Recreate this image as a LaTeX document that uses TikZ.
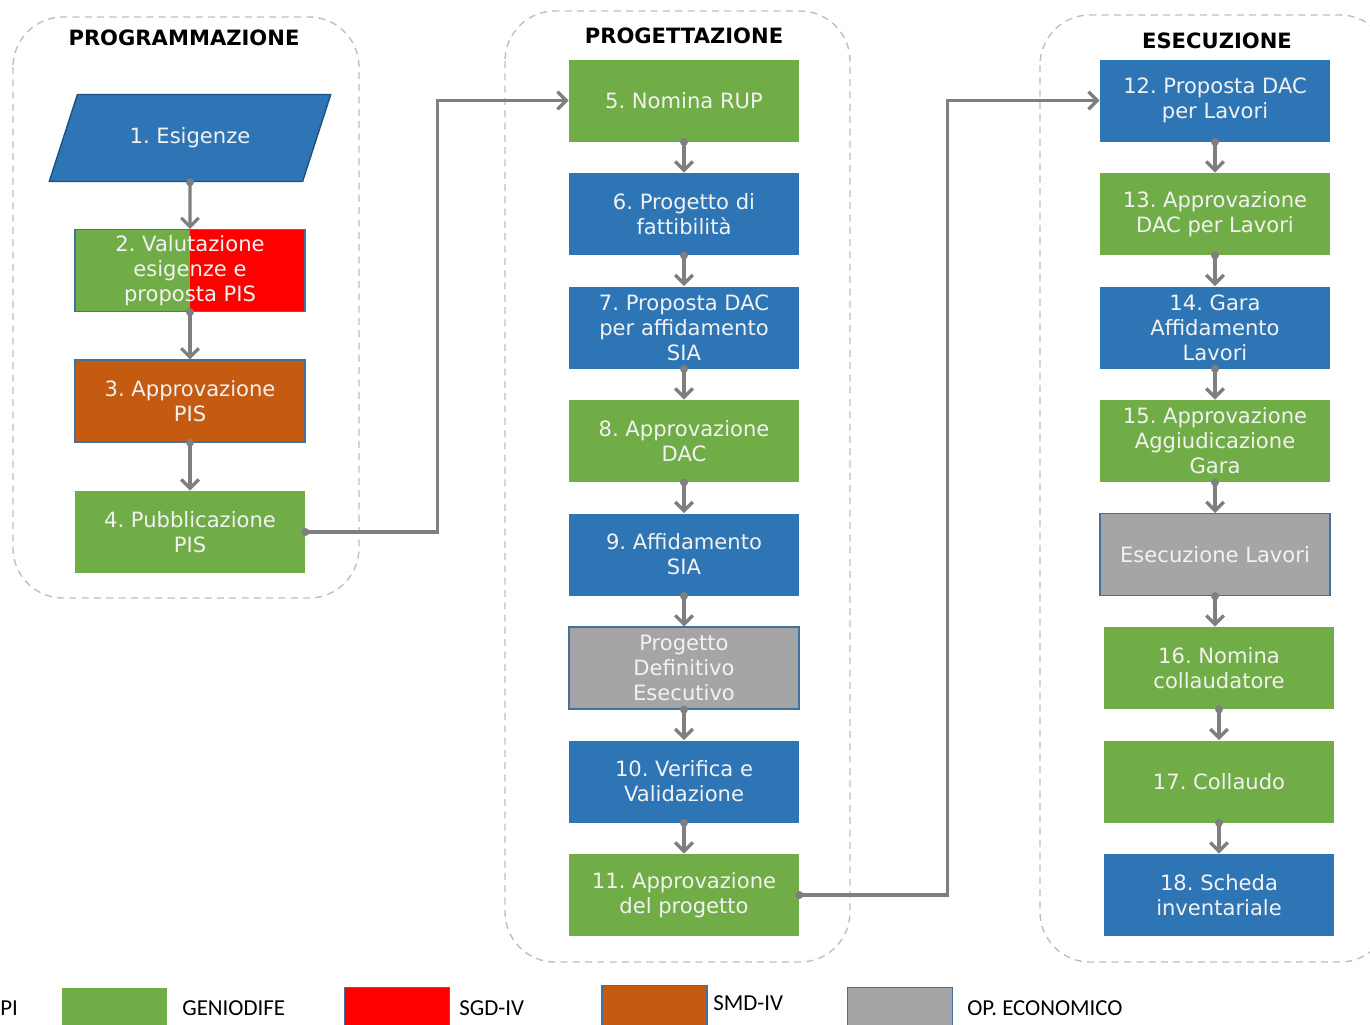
\documentclass[tikz,border=0pt]{standalone}
\usepackage{fontspec}
\setmainfont{DejaVu Sans}
\newfontfamily\legfont{Carlito}
\frenchspacing
\usetikzlibrary{arrows.meta,positioning,shapes.geometric}
\definecolor{gdgreen}{HTML}{70AD47}
\definecolor{piblue}{HTML}{2E75B6}
\definecolor{sgdred}{HTML}{FF0000}
\definecolor{smdorange}{HTML}{C55A11}
\definecolor{opgray}{HTML}{A5A5A5}
\definecolor{edgeblue}{HTML}{41719C}
\definecolor{linkgray}{HTML}{7F7F7F}
\definecolor{phasegray}{HTML}{BFBFBF}
\tikzstyle{phase} = [draw=phasegray, dash pattern=on 4pt off 3pt, line width=0.8pt, rounded corners=1cm]
\tikzstyle{title} = [font=\bfseries\fontsize{12}{14}\selectfont]
\tikzstyle{box} = [rectangle, minimum width=4.6cm, minimum height=1.64cm, inner sep=1pt, align=center, text=white!95!black, font=\fontsize{12}{14.2}\selectfont]
\tikzstyle{gdbox} = [box, fill=gdgreen]
\tikzstyle{pibox} = [box, fill=piblue]
\tikzstyle{smdbox} = [box, fill=smdorange, draw=edgeblue, line width=0.6pt]
\tikzstyle{opbox} = [box, fill=opgray, draw=edgeblue, line width=0.6pt]
\tikzstyle{link} = [draw=linkgray, line width=1.9pt, shorten <=-2.2pt, {Circle[length=4.4pt]}-{Straight Barb[length=5pt,width=10pt]}]
\tikzstyle{legbox} = [rectangle, minimum width=2.1cm, minimum height=0.9cm, inner sep=0pt]
\tikzstyle{legtext} = [anchor=west, inner sep=0pt, font=\legfont\fontsize{13}{15}\selectfont]

\begin{document}
\begin{tikzpicture}[node distance=2.27cm]
  \useasboundingbox (0,0) rectangle (27.4,-20.48);
  % fasi
  \draw[phase] (0.26,-0.34) rectangle (7.18,-11.96);
  \draw[phase] (10.1,-0.22) rectangle (17.0,-19.24);
  \draw[phase] (20.8,-0.3) rectangle (27.8,-19.24);
  \node (tprog)[title] at (3.68,-0.76) {PROGRAMMAZIONE};
  \node (tproj)[title] at (13.68,-0.72) {PROGETTAZIONE};
  \node (tese)[title] at (24.34,-0.82) {ESECUZIONE};

  % programmazione
  \node (esig)[box, trapezium, trapezium left angle=57, trapezium right angle=123, trapezium stretches=true, minimum width=5.64cm, minimum height=1.74cm, fill=piblue, draw=piblue!70!black, line width=0.8pt] at (3.8,-2.76) {1. Esigenze};
  \node (val)[box, below of=esig, node distance=2.65cm, draw=edgeblue, line width=0.6pt, fill=sgdred,
    path picture={\fill[gdgreen] (path picture bounding box.south west) rectangle (path picture bounding box.north);}]
    {2. Valutazione\\esigenze e\\proposta PIS};
  \node (apppis)[smdbox, below of=val, node distance=2.61cm]{3. Approvazione\\PIS};
  \node (pubpis)[gdbox, below of=apppis, node distance=2.62cm]{4. Pubblicazione\\PIS};
  \draw [link] (esig.south) -- (val.north);
  \draw [link] (val.south) -- (apppis.north);
  \draw [link] (apppis.south) -- (pubpis.north);

  % progettazione
  \node (rup)[gdbox] at (13.68,-2.01) {5. Nomina RUP};
  \node (fatt)[pibox, below of=rup]{6. Progetto di\\fattibilità};
  \node (dacsia)[pibox, below of=fatt]{7. Proposta DAC\\per affidamento\\SIA};
  \node (appdac)[gdbox, below of=dacsia]{8. Approvazione\\DAC};
  \node (affsia)[pibox, below of=appdac]{9. Affidamento\\SIA};
  \node (pde)[opbox, below of=affsia]{Progetto\\Definitivo\\Esecutivo};
  \node (verval)[pibox, below of=pde]{10. Verifica e\\Validazione};
  \node (approg)[gdbox, below of=verval]{11. Approvazione\\del progetto};
  \draw [link] (rup.south) -- (fatt.north);
  \draw [link] (fatt.south) -- (dacsia.north);
  \draw [link] (dacsia.south) -- (appdac.north);
  \draw [link] (appdac.south) -- (affsia.north);
  \draw [link] (affsia.south) -- (pde.north);
  \draw [link] (pde.south) -- (verval.north);
  \draw [link] (verval.south) -- (approg.north);

  % esecuzione
  \node (daclav)[pibox] at (24.3,-2.01) {12. Proposta DAC\\per Lavori};
  \node (appdaclav)[gdbox, below of=daclav]{13. Approvazione\\DAC per Lavori};
  \node (gara)[pibox, below of=appdaclav]{14. Gara\\Affidamento\\Lavori};
  \node (aggiud)[gdbox, below of=gara]{15. Approvazione\\Aggiudicazione\\Gara};
  \node (eselav)[opbox, below of=aggiud]{Esecuzione Lavori};
  \node (nomcoll)[gdbox, below of=eselav, xshift=0.08cm]{16. Nomina\\collaudatore};
  \node (coll)[gdbox, below of=nomcoll]{17. Collaudo};
  \node (scheda)[pibox, below of=coll]{18. Scheda\\inventariale};
  \draw [link] (daclav.south) -- (appdaclav.north);
  \draw [link] (appdaclav.south) -- (gara.north);
  \draw [link] (gara.south) -- (aggiud.north);
  \draw [link] (aggiud.south) -- (eselav.north);
  \draw [link] (eselav.south) -- (eselav.south |- nomcoll.north);
  \draw [link] (nomcoll.south) -- (coll.north);
  \draw [link] (coll.south) -- (scheda.north);

  % passaggi tra le fasi
  \draw [link] (pubpis.east) -- ++(2.64,0) |- (rup.west);
  \draw [link] (approg.east) -- ++(2.96,0) |- (daclav.west);

  % legenda
  \node (lpi)[legtext] at (0,-20.16) {PI};
  \node (lgd)[legbox, fill=gdgreen] at (2.29,-20.2) {};
  \node (lgdt)[legtext] at (3.64,-20.16) {GENIODIFE};
  \node (lsgd)[legbox, fill=sgdred, draw=edgeblue, line width=0.6pt] at (7.94,-20.2) {};
  \node (lsgdt)[legtext] at (9.18,-20.16) {SGD-IV};
  \node (lsmd)[legbox, fill=smdorange, draw=edgeblue, line width=0.6pt] at (13.09,-20.16) {};
  \node (lsmdt)[legtext] at (14.26,-20.06) {SMD-IV};
  \node (lop)[legbox, fill=opgray, draw=edgeblue, line width=0.6pt] at (18.0,-20.2) {};
  \node (lopt)[legtext] at (19.34,-20.16) {OP. ECONOMICO};
\end{tikzpicture}
\end{document}
